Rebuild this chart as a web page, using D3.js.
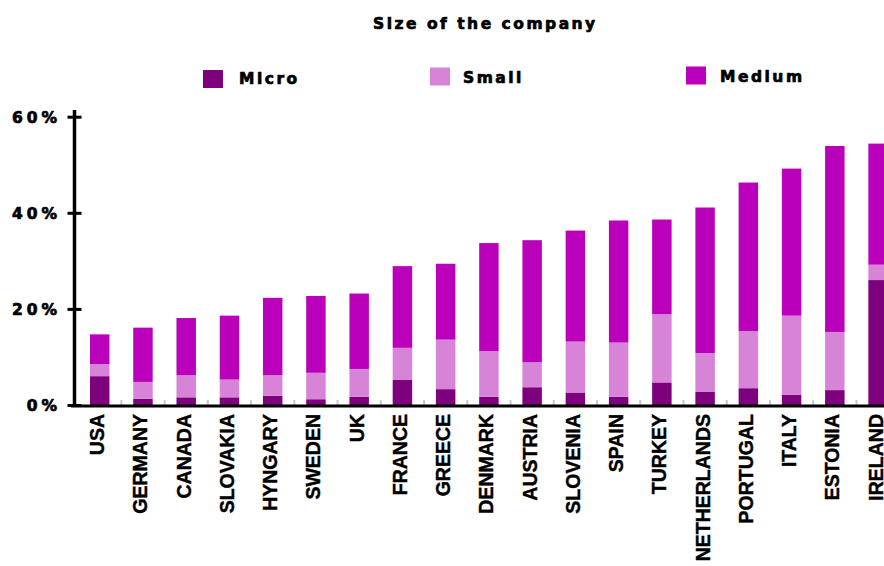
<!DOCTYPE html>
<html>
<head>
<meta charset="utf-8">
<script src="https://cdn.jsdelivr.net/npm/d3@7/dist/d3.min.js"></script>
<style>
  html, body { margin: 0; padding: 0; background: #fff; }
  svg { display: block; }
</style>
</head>
<body>
<svg id="chart" width="884" height="566"></svg>
<script>
// Share of companies by country, stacked by company size (percent)
const countries = ["USA", "GERMANY", "CANADA", "SLOVAKIA", "HYNGARY", "SWEDEN", "UK", "FRANCE", "GREECE",
  "DENMARK", "AUSTRIA", "SLOVENIA", "SPAIN", "TURKEY", "NETHERLANDS", "PORTUGAL", "ITALY", "ESTONIA", "IRELAND"];
const micro  = [6.0, 1.3, 1.6, 1.6, 1.9, 1.2, 1.7, 5.2, 3.3, 1.7, 3.7, 2.6, 1.7, 4.7, 2.8, 3.5, 2.1, 3.1, 26.0];
const small  = [2.5, 3.5, 4.6, 3.7, 4.3, 5.5, 5.8, 6.7, 10.3, 9.5, 5.2, 10.6, 11.3, 14.2, 8.0, 11.9, 16.5, 12.1, 3.2];
const medium = [6.2, 11.3, 11.9, 13.3, 16.1, 16.0, 15.7, 17.0, 15.8, 22.5, 25.4, 23.1, 25.4, 19.7, 30.3, 30.9, 30.6, 38.7, 25.2];
const seriesNames = ["Micro", "Small", "Medium"];
const seriesColors = ["#7d007d", "#d783d7", "#bb00bb"];
const yTicks = [0, 20, 40, 60];
const title = "Size of the company";

const svg = d3.select("#chart");
svg.append("rect").attr("width", 884).attr("height", 566).attr("fill", "#fff");

const rows = countries.map((c, i) => ({ country: c, Micro: micro[i], Small: small[i], Medium: medium[i] }));
const stacked = d3.stack().keys(seriesNames)(rows);

const x = d3.scaleBand().domain(countries).range([78.1, 899.7]).paddingInner(0.55).paddingOuter(0.275);
const y = d3.scaleLinear().domain([0, 60]).range([405, 116.7]);
const color = d3.scaleOrdinal().domain(seriesNames).range(seriesColors);

// Heavy lettering used for the title, legend and value axis
function heavy(sel, size, spacing) {
  sel.attr("font-family", "DejaVu Sans").attr("font-weight", "bold")
    .attr("font-size", size).attr("letter-spacing", spacing)
    .attr("fill", "#000").attr("stroke", "#000").attr("stroke-width", 0.7)
    .attr("stroke-linejoin", "round");
}

// Title
svg.append("text")
  .attr("x", 373).attr("y", 29)
  .call(heavy, 15.5, 2.5)
  .text(title);

// Legend
const legendLayout = [
  { x: 203, sq: 70, base: 84.3, tx: 239 },
  { x: 430, sq: 67.5, base: 82.5, tx: 463 },
  { x: 686, sq: 66.5, base: 82, tx: 720 }
];
const legend = svg.append("g").selectAll("g").data(seriesNames).join("g");
legend.append("rect")
  .attr("x", (d, i) => legendLayout[i].x)
  .attr("y", (d, i) => legendLayout[i].sq)
  .attr("width", 20).attr("height", 18)
  .attr("fill", d => color(d));
legend.append("text")
  .attr("x", (d, i) => legendLayout[i].tx)
  .attr("y", (d, i) => legendLayout[i].base)
  .call(heavy, 15.5, 2.5)
  .text(d => d);

// Stacked bars
svg.append("g").selectAll("g").data(stacked).join("g")
  .attr("fill", d => color(d.key))
  .selectAll("rect").data(d => d).join("rect")
  .attr("x", d => x(d.data.country))
  .attr("width", x.bandwidth())
  .attr("y", d => y(d[1]))
  .attr("height", d => y(d[0]) - y(d[1]));

// Faint minor ticks between the bars on the baseline
const gap = x.step() - x.bandwidth();
svg.append("g").selectAll("line").data(countries.slice(1)).join("line")
  .attr("x1", d => x(d) - gap / 2).attr("x2", d => x(d) - gap / 2)
  .attr("y1", 400).attr("y2", 405)
  .attr("stroke", "#c8c8c8").attr("stroke-width", 2);

// X axis line
svg.append("line")
  .attr("x1", 71).attr("x2", 884)
  .attr("y1", 406).attr("y2", 406)
  .attr("stroke", "#000").attr("stroke-width", 3);

// Y axis
const yAxis = d3.axisLeft(y).tickValues(yTicks).tickFormat(d => d + "%").tickSize(0).tickPadding(0);
const gy = svg.append("g").attr("transform", "translate(74.5,0)").call(yAxis);
gy.select(".domain").remove();
gy.selectAll(".tick line").remove();
gy.append("line")
  .attr("x1", 0).attr("x2", 0)
  .attr("y1", 110).attr("y2", 407)
  .attr("stroke", "#000").attr("stroke-width", 3.5);
gy.selectAll(".tick").append("line")
  .attr("x1", -7).attr("x2", 7)
  .attr("stroke", "#000").attr("stroke-width", 3);
gy.selectAll(".tick text")
  .attr("x", -13.5).attr("dy", "0.36em")
  .call(heavy, 15.5, 4);

// Country labels, rotated
svg.append("g").selectAll("text").data(countries).join("text")
  .attr("transform", d => `translate(${x(d) + x.bandwidth() / 2 + 4.5},414) rotate(-90)`)
  .attr("text-anchor", "end")
  .attr("font-family", "Liberation Sans").attr("font-weight", "bold")
  .attr("font-size", 19.5)
  .attr("fill", "#000").attr("stroke", "#000").attr("stroke-width", 0.4)
  .text(d => d);
</script>
</body>
</html>
